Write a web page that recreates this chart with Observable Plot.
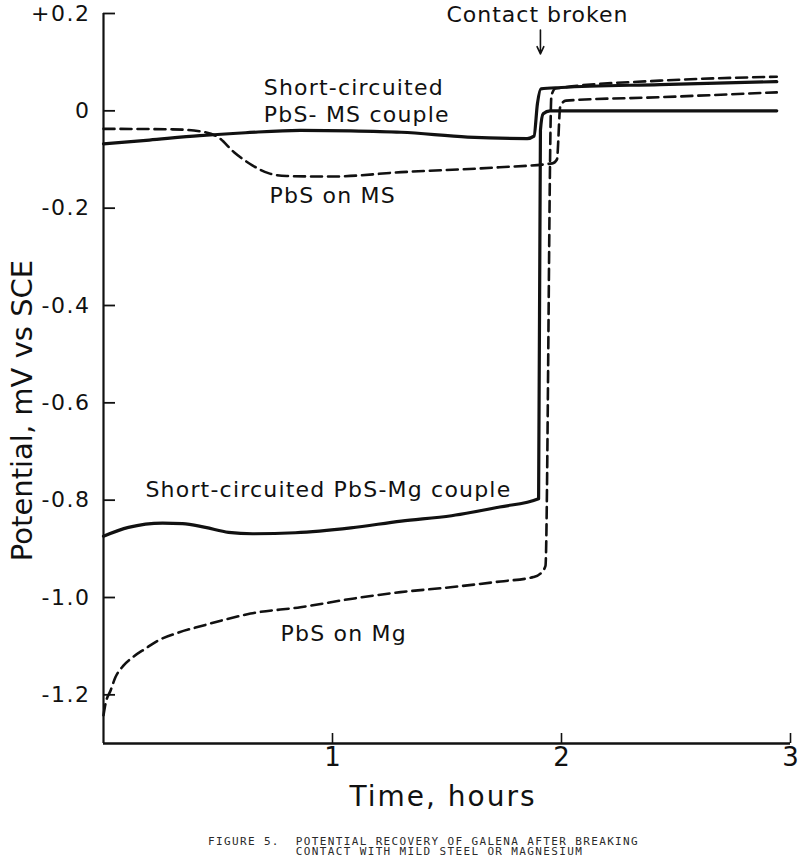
<!DOCTYPE html>
<html>
<head>
<meta charset="utf-8">
<script src="https://cdn.jsdelivr.net/npm/d3@7"></script>
<script src="https://cdn.jsdelivr.net/npm/@observablehq/plot@0.6"></script>
<style>
  body { margin: 0; background: #fff; }
  #wrap { position: relative; width: 800px; height: 868px; background: #fff; }
  #cap { position: absolute; left: 208px; top: 837px; font-family: "DejaVu Sans Mono", monospace;
         font-size: 11px; letter-spacing: 1.36px; line-height: 10px; white-space: pre; color: #2a2a2a; }
</style>
</head>
<body>
<div id="wrap"><div id="chart"></div><div id="cap"></div></div>
<script>
// ---- data (time in hours, potential in V vs SCE) ----
const msCoupleTime = [0, 0.2, 0.42, 0.62, 0.86, 1.08, 1.30, 1.59, 1.85, 1.88, 1.895, 1.91, 2.0, 2.43, 2.94];
const msCoupleV    = [-0.068, -0.060, -0.051, -0.045, -0.040, -0.041, -0.044, -0.054, -0.057, -0.052, 0.015, 0.045, 0.048, 0.054, 0.060];

const mgCoupleTime = [0, 0.109, 0.258, 0.345, 0.445, 0.546, 0.651, 0.838, 1.08, 1.30, 1.52, 1.73, 1.90, 1.908, 1.92, 1.95, 2.4, 2.94];
const mgCoupleV    = [-0.874, -0.856, -0.847, -0.848, -0.856, -0.866, -0.869, -0.867, -0.857, -0.843, -0.832, -0.814, -0.797, -0.04, -0.006, 0.0, 0.0, 0.0];

const msAloneTime = [0, 0.3, 0.42, 0.5, 0.57, 0.65, 0.72, 0.80, 1.0, 1.30, 1.73, 1.96, 1.98, 1.995, 2.02, 2.43, 2.94];
const msAloneV    = [-0.037, -0.038, -0.042, -0.054, -0.085, -0.112, -0.128, -0.134, -0.135, -0.126, -0.116, -0.108, -0.100, 0.010, 0.021, 0.028, 0.038];

const mgAloneTime = [0, 0.009, 0.031, 0.052, 0.087, 0.127, 0.183, 0.24, 0.328, 0.432, 0.533, 0.642, 0.86, 1.079, 1.297, 1.515, 1.734, 1.878, 1.908, 1.93, 1.956, 1.974, 2.43, 2.94];
const mgAloneV    = [-1.242, -1.218, -1.191, -1.164, -1.140, -1.123, -1.105, -1.088, -1.072, -1.058, -1.045, -1.033, -1.020, -1.003, -0.989, -0.979, -0.967, -0.958, -0.951, -0.935, 0.031, 0.046, 0.062, 0.070];

const xTicks = [1, 2, 3];
const xTickLabels = ["1", "2", "3"];
const yTicks = [0.2, 0, -0.2, -0.4, -0.6, -0.8, -1.0, -1.2];
const yTickLabels = ["+0.2", "0", "-0.2", "-0.4", "-0.6", "-0.8", "-1.0", "-1.2"];

const labelTexts = ["Short-circuited", "PbS- MS couple", "PbS on MS", "Short-circuited PbS-Mg couple", "PbS on Mg"];
const labelX     = [0.70, 0.70, 0.725, 0.183, 0.773];
const labelY     = [0.046, -0.008, -0.174, -0.780, -1.074];

const contactText = "Contact broken";
const contactTime = 1.908;

const xTitle = "Time, hours";
const yTitle = "Potential, mV vs SCE";
const captionLines = ["FIGURE 5.  POTENTIAL RECOVERY OF GALENA AFTER BREAKING",
                      "           CONTACT WITH MILD STEEL OR MAGNESIUM"];

// ---- build tables ----
const toRows = (ts, vs) => ts.map((t, i) => ({t, v: vs[i]}));
const solidSeries = [toRows(msCoupleTime, msCoupleV), toRows(mgCoupleTime, mgCoupleV)];
const dashedSeries = [toRows(msAloneTime, msAloneV), toRows(mgAloneTime, mgAloneV)];
const labels = labelTexts.map((s, i) => ({s, x: labelX[i], y: labelY[i]}));

const W = 800, H = 830, mL = 103, mR = 10, mT = 13, mB = 87;
const frameW = W - mL - mR, frameH = H - mT - mB;
const ink = "#111";

const marks = [];
for (const s of solidSeries) marks.push(Plot.line(s, {x: "t", y: "v", curve: "monotone-x", stroke: ink, strokeWidth: 3.2}));
for (const s of dashedSeries) marks.push(Plot.line(s, {x: "t", y: "v", curve: "monotone-x", stroke: ink, strokeWidth: 2.6, strokeDasharray: "11,6"}));

const chart = Plot.plot({
  width: W, height: H,
  marginLeft: mL, marginRight: mR, marginTop: mT, marginBottom: mB,
  style: {fontFamily: "DejaVu Sans", background: "#fff", color: ink},
  x: {domain: [0, 3]},
  y: {domain: [-1.3, 0.2]},
  marks: [
    Plot.ruleX([0], {stroke: ink, strokeWidth: 2.2}),
    Plot.ruleY([-1.3], {stroke: ink, strokeWidth: 2.6}),
    Plot.tickX(xTicks, {x: d => d, stroke: ink, strokeWidth: 1.6, insetTop: frameH - 10}),
    Plot.tickY(yTicks, {y: d => d, stroke: ink, strokeWidth: 1.8, insetRight: frameW - 12}),
    Plot.axisY(yTicks, {tickSize: 0, tickPadding: 13, fontSize: 22, label: null,
      tickFormat: d => yTickLabels[yTicks.indexOf(d)]}),
    Plot.axisX(xTicks, {tickSize: 0, tickPadding: 4, fontSize: 26, label: null,
      tickFormat: d => xTickLabels[xTicks.indexOf(d)]}),
    ...marks,
    Plot.text(labels, {x: "x", y: "y", text: "s", textAnchor: "start", fontSize: 22, fill: ink}),
    Plot.text([contactText], {x: contactTime - 0.013, y: 0.196, text: d => d, fontSize: 22, fill: ink}),
    Plot.arrow([contactTime], {x1: d => d, x2: d => d, y1: 0.166, y2: 0.117, stroke: ink, strokeWidth: 1.6, headLength: 9, headAngle: 50}),
    Plot.text([yTitle], {frameAnchor: "left", textAnchor: "middle", lineAnchor: "middle", rotate: -90, dx: -81, dy: 32, fontSize: 29, fill: ink, text: d => d}),
    Plot.text([xTitle], {frameAnchor: "bottom", textAnchor: "middle", lineAnchor: "middle", dx: -4, dy: 54, fontSize: 28, fill: ink, text: d => d})
  ]
});
document.getElementById("chart").appendChild(chart);

// letter spacing tweaks to imitate the lettering-guide type
const spacing = new Map([[xTitle, "2px"], [contactText, "1px"]]);
labelTexts.forEach(s => spacing.set(s, "1.2px"));
yTickLabels.forEach(s => spacing.set(s, "1.5px"));
d3.select(chart).selectAll("text").each(function() {
  const s = this.textContent;
  if (spacing.has(s)) this.style.letterSpacing = spacing.get(s);
});

document.getElementById("cap").textContent = captionLines.join("\n");
</script>
</body>
</html>
